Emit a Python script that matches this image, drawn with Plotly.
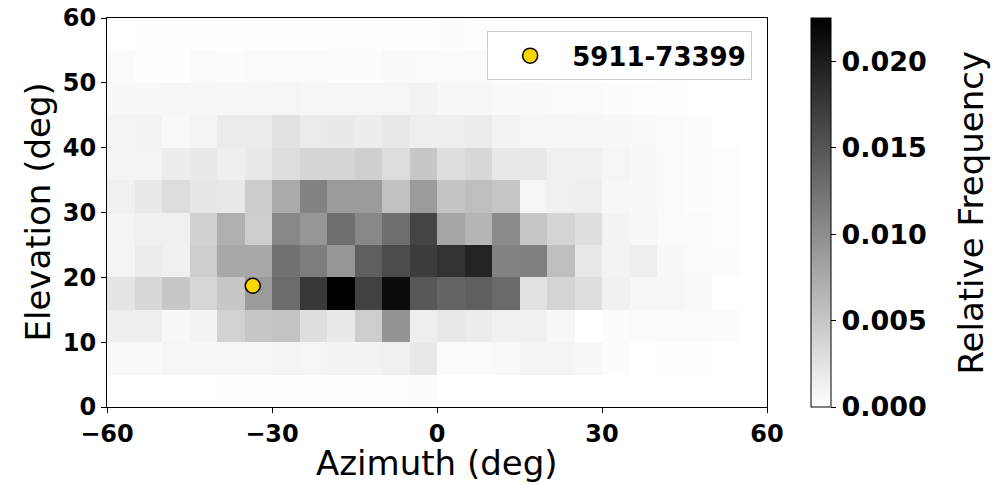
import plotly.graph_objects as go

# Bin edges (deg)
az_edges = list(range(-60, 65, 5))
el_edges = list(range(0, 65, 5))

# Relative frequency per cell, one list per elevation bin (0-5 ... 55-60), 24 azimuth bins each
el_00_05 = [0, 0, 0, 0, 0.0002, 0.0002, 0.0001, 0.0001, 0.0001, 0.0001, 0.0002, 0.0003,
            0, 0, 0, 0, 0, 0, 0, 0, 0, 0, 0, 0]
el_05_10 = [0.0005, 0.0005, 0.0008, 0.0008, 0.0008, 0.0008, 0.0010, 0.0009, 0.0011, 0.0011, 0.0013, 0.0020,
            0.0004, 0.0004, 0.0005, 0.0010, 0.0010, 0.0006, 0.0003, 0, 0.0001, 0.0001, 0, 0]
el_10_15 = [0.0015, 0.0015, 0.0006, 0.0011, 0.0040, 0.0049, 0.0053, 0.0029, 0.0019, 0.0044, 0.0094, 0.0015,
            0.0020, 0.0017, 0.0013, 0.0013, 0.0007, 0, 0.0003, 0.0004, 0.0004, 0.0004, 0.0003, 0]
el_15_20 = [0.0024, 0.0035, 0.0049, 0.0035, 0.0049, 0.0088, 0.0130, 0.0176, 0.0225, 0.0168, 0.0214, 0.0147,
            0.0137, 0.0141, 0.0132, 0.0026, 0.0038, 0.0029, 0.0013, 0.0008, 0.0007, 0.0005, 0, 0]
el_20_25 = [0.0010, 0.0017, 0.0013, 0.0044, 0.0077, 0.0077, 0.0124, 0.0115, 0.0093, 0.0141, 0.0159, 0.0172,
            0.0181, 0.0194, 0.0110, 0.0112, 0.0057, 0.0020, 0.0011, 0.0015, 0.0006, 0.0004, 0.0003, 0]
el_25_30 = [0.0010, 0.0013, 0.0013, 0.0041, 0.0071, 0.0044, 0.0106, 0.0093, 0.0128, 0.0106, 0.0128, 0.0165,
            0.0079, 0.0066, 0.0103, 0.0049, 0.0038, 0.0029, 0.0011, 0.0007, 0.0004, 0.0004, 0.0002, 0]
el_30_35 = [0.0013, 0.0020, 0.0031, 0.0022, 0.0020, 0.0045, 0.0075, 0.0110, 0.0088, 0.0088, 0.0055, 0.0088,
            0.0053, 0.0057, 0.0050, 0.0009, 0.0013, 0.0015, 0.0007, 0.0006, 0.0004, 0.0003, 0.0001, 0]
el_35_40 = [0.0010, 0.0010, 0.0016, 0.0019, 0.0015, 0.0019, 0.0029, 0.0036, 0.0036, 0.0042, 0.0031, 0.0049,
            0.0029, 0.0034, 0.0020, 0.0020, 0.0013, 0.0013, 0.0009, 0.0006, 0.0004, 0.0003, 0.0002, 0]
el_40_45 = [0.0010, 0.0011, 0.0005, 0.0010, 0.0018, 0.0018, 0.0026, 0.0018, 0.0019, 0.0016, 0.0020, 0.0015,
            0.0015, 0.0017, 0.0011, 0.0008, 0.0008, 0.0007, 0.0006, 0.0005, 0.0004, 0.0003, 0, 0]
el_45_50 = [0.0006, 0.0006, 0.0007, 0.0007, 0.0007, 0.0007, 0.0009, 0.0007, 0.0008, 0.0009, 0.0009, 0.0011,
            0.0007, 0.0007, 0.0005, 0.0005, 0.0004, 0.0004, 0.0003, 0.0002, 0.0001, 0, 0, 0]
el_50_55 = [0.0004, 0.0002, 0.0001, 0.0004, 0.0003, 0.0004, 0.0004, 0.0004, 0.0003, 0.0003, 0.0005, 0.0004,
            0.0004, 0.0004, 0.0003, 0.0002, 0.0001, 0, 0, 0, 0, 0, 0, 0]
el_55_60 = [0, 0.0001, 0.0001, 0.0001, 0.0001, 0.0002, 0.0002, 0.0002, 0.0002, 0.0002, 0.0002, 0.0002,
            0.0003, 0.0002, 0.0001, 0, 0, 0, 0, 0, 0, 0, 0, 0]

z_rows = [el_00_05, el_05_10, el_10_15, el_15_20, el_20_25, el_25_30,
          el_30_35, el_35_40, el_40_45, el_45_50, el_50_55, el_55_60]

# Highlighted source
point_name = "5911-73399"
point_az = [-33.5]
point_el = [18.7]

x_ticks = [-60, -30, 0, 30, 60]
x_ticktext = ["\u221260", "\u221230", "0", "30", "60"]
y_ticks = [0, 10, 20, 30, 40, 50, 60]
cb_ticks = [0.0, 0.005, 0.010, 0.015, 0.020]
cb_ticktext = ["0.000", "0.005", "0.010", "0.015", "0.020"]

FONT = "DejaVu Sans"

fig = go.Figure()
fig.add_trace(go.Heatmap(
    x=az_edges, y=el_edges, z=z_rows,
    colorscale=[[0, "#ffffff"], [1, "#000000"]],
    zmin=0, zmax=0.0225,
    showlegend=False, hoverinfo="skip",
    colorbar=dict(
        x=1.0667, xanchor="left", xpad=0,
        y=0.5, yanchor="middle", ypad=0, len=1, lenmode="fraction",
        thickness=20, outlinewidth=1, outlinecolor="black",
        ticks="outside", ticklen=5, tickwidth=1, tickcolor="black",
        tickvals=cb_ticks, ticktext=cb_ticktext,
        tickfont=dict(family=FONT, size=27, color="black", weight="bold"),
    ),
))
fig.add_trace(go.Scatter(
    x=point_az, y=point_el, mode="markers", name=point_name,
    marker=dict(size=15, color="#FFD700", line=dict(color="black", width=1.5)),
    showlegend=True,
))

axis_common = dict(
    showline=True, linecolor="black", linewidth=1, mirror=True,
    ticks="outside", ticklen=5, tickwidth=1, tickcolor="black",
    showgrid=False, zeroline=False, automargin=False,
    tickfont=dict(family=FONT, size=24, color="black", weight="bold"),
)

fig.update_layout(
    width=1004, height=485,
    margin=dict(l=107, r=237, t=18, b=78),
    paper_bgcolor="white", plot_bgcolor="white",
    font=dict(family=FONT, color="black"),
    xaxis=dict(range=[-60, 60], tickvals=x_ticks, ticktext=x_ticktext, **axis_common),
    yaxis=dict(range=[0, 60], tickvals=y_ticks, **axis_common),
    legend=dict(
        x=0.576, y=0.966, xanchor="left", yanchor="top",
        bgcolor="white", bordercolor="#cccccc", borderwidth=1,
        font=dict(family=FONT, size=26, color="black", weight="bold"),
        itemwidth=74,
    ),
    annotations=[
        dict(text="Azimuth (deg)", xref="paper", yref="paper", x=0.5, y=-0.144,
             xanchor="center", yanchor="middle", showarrow=False,
             font=dict(family=FONT, size=34, color="black")),
        dict(text="Elevation (deg)", xref="paper", yref="paper", x=-0.106, y=0.5,
             xanchor="center", yanchor="middle", textangle=-90, showarrow=False,
             font=dict(family=FONT, size=34, color="black")),
        dict(text="Relative Frequency", xref="paper", yref="paper", x=1.3076, y=0.5,
             xanchor="center", yanchor="middle", textangle=-90, showarrow=False,
             font=dict(family=FONT, size=34, color="black")),
    ],
)

fig.write_html("out.html")
